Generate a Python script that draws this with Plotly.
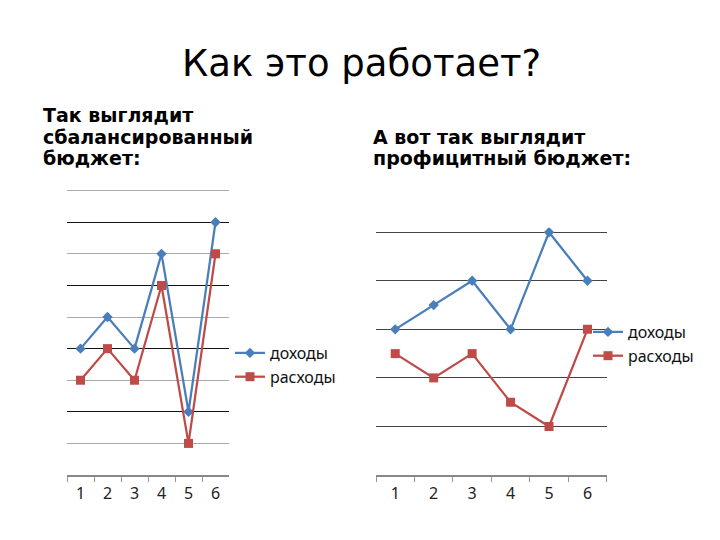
import plotly.graph_objects as go

# ---- data ----
categories = ["1", "2", "3", "4", "5", "6"]
left_income = [4, 5, 4, 7, 2, 8]
left_expense = [3, 4, 3, 6, 1, 7]
right_income = [3, 3.5, 4, 3, 5, 4]
right_expense = [2.5, 2, 2.5, 1.5, 1, 3]
series_names = ["доходы", "расходы"]

title_text = "Как это работает?"
left_lines = ["Так выглядит", "сбалансированный", "бюджет:"]
right_lines = ["А вот так выглядит", "профицитный бюджет:"]

W, H = 720, 540
def px(x):
    return x / W
def py(y):
    return 1 - y / H

BLUE = "#4A7EBB"
RED = "#BE4B48"
TICKFONT = dict(family="Noto Sans, Liberation Sans, sans-serif", size=16, color="#222")
LEGFONT = dict(family="Noto Sans, Liberation Sans, sans-serif", size=16, color="#111")

fig = go.Figure()

def add_series(xa, ya, inc, exp, legend):
    fig.add_trace(go.Scatter(
        x=categories, y=inc, name=series_names[0], mode="lines+markers",
        xaxis=xa, yaxis=ya, legend=legend,
        line=dict(color=BLUE, width=2.25),
        marker=dict(symbol="diamond", size=8, color=BLUE)))
    fig.add_trace(go.Scatter(
        x=categories, y=exp, name=series_names[1], mode="lines+markers",
        xaxis=xa, yaxis=ya, legend=legend,
        line=dict(color=RED, width=2.25),
        marker=dict(symbol="square", size=9, color=RED)))

add_series("x", "y", left_income, left_expense, "legend")
add_series("x2", "y2", right_income, right_expense, "legend2")

xcommon = dict(type="category", range=[-0.5, 5.5], tickson="boundaries",
               ticks="outside", ticklen=5, tickcolor="#999", showline=True,
               linecolor="#888", linewidth=1.5, showgrid=False, tickfont=TICKFONT,
               ticklabelstandoff=3, fixedrange=True)

# left: 31.6 px per unit, right: 48.5 px per unit; headroom so the top gridline is drawn
fig.update_layout(
    width=W, height=H, margin=dict(l=0, r=0, t=0, b=0),
    paper_bgcolor="white", plot_bgcolor="white",
    xaxis=dict(domain=[px(67), px(229)], anchor="y", **xcommon),
    yaxis=dict(domain=[py(475), py(187.5)], anchor="x", range=[0, 9.1],
               dtick=2, tick0=0, showticklabels=False, zeroline=False,
               gridcolor="#111", gridwidth=1.2,
               minor=dict(dtick=1, tick0=0, showgrid=True, gridcolor="#aaa", gridwidth=1)),
    xaxis2=dict(domain=[px(376), px(606.7)], anchor="y2", **xcommon),
    yaxis2=dict(domain=[py(475), py(227.4)], anchor="x2", range=[0, 5.1],
                dtick=1, tick0=0, showticklabels=False, zeroline=False,
                gridcolor="#444", gridwidth=1),
    legend=dict(x=px(230), y=py(336), xanchor="left", yanchor="top",
                font=LEGFONT, bgcolor="rgba(0,0,0,0)", tracegroupgap=0, itemwidth=30),
    legend2=dict(x=px(588), y=py(315), xanchor="left", yanchor="top",
                 font=LEGFONT, bgcolor="rgba(0,0,0,0)", tracegroupgap=0, itemwidth=30),
)

annotations = []
annotations.append(dict(text=title_text, x=px(361), y=py(63), xref="paper", yref="paper",
                        xanchor="center", yanchor="middle", showarrow=False,
                        font=dict(family="DejaVu Sans, sans-serif", size=37, color="#000")))
SUB = dict(family="DejaVu Sans, sans-serif", size=19, color="#000")
for i, t in enumerate(left_lines):
    annotations.append(dict(text="<b>%s</b>" % t, x=px(41), y=py(115 + 21.5 * i), xref="paper", yref="paper",
                            xanchor="left", yanchor="middle", showarrow=False, font=SUB))
for i, t in enumerate(right_lines):
    annotations.append(dict(text="<b>%s</b>" % t, x=px(371), y=py(136.5 + 21.5 * i), xref="paper", yref="paper",
                            xanchor="left", yanchor="middle", showarrow=False, font=SUB))
fig.update_layout(annotations=annotations)

fig.write_html("out.html")
